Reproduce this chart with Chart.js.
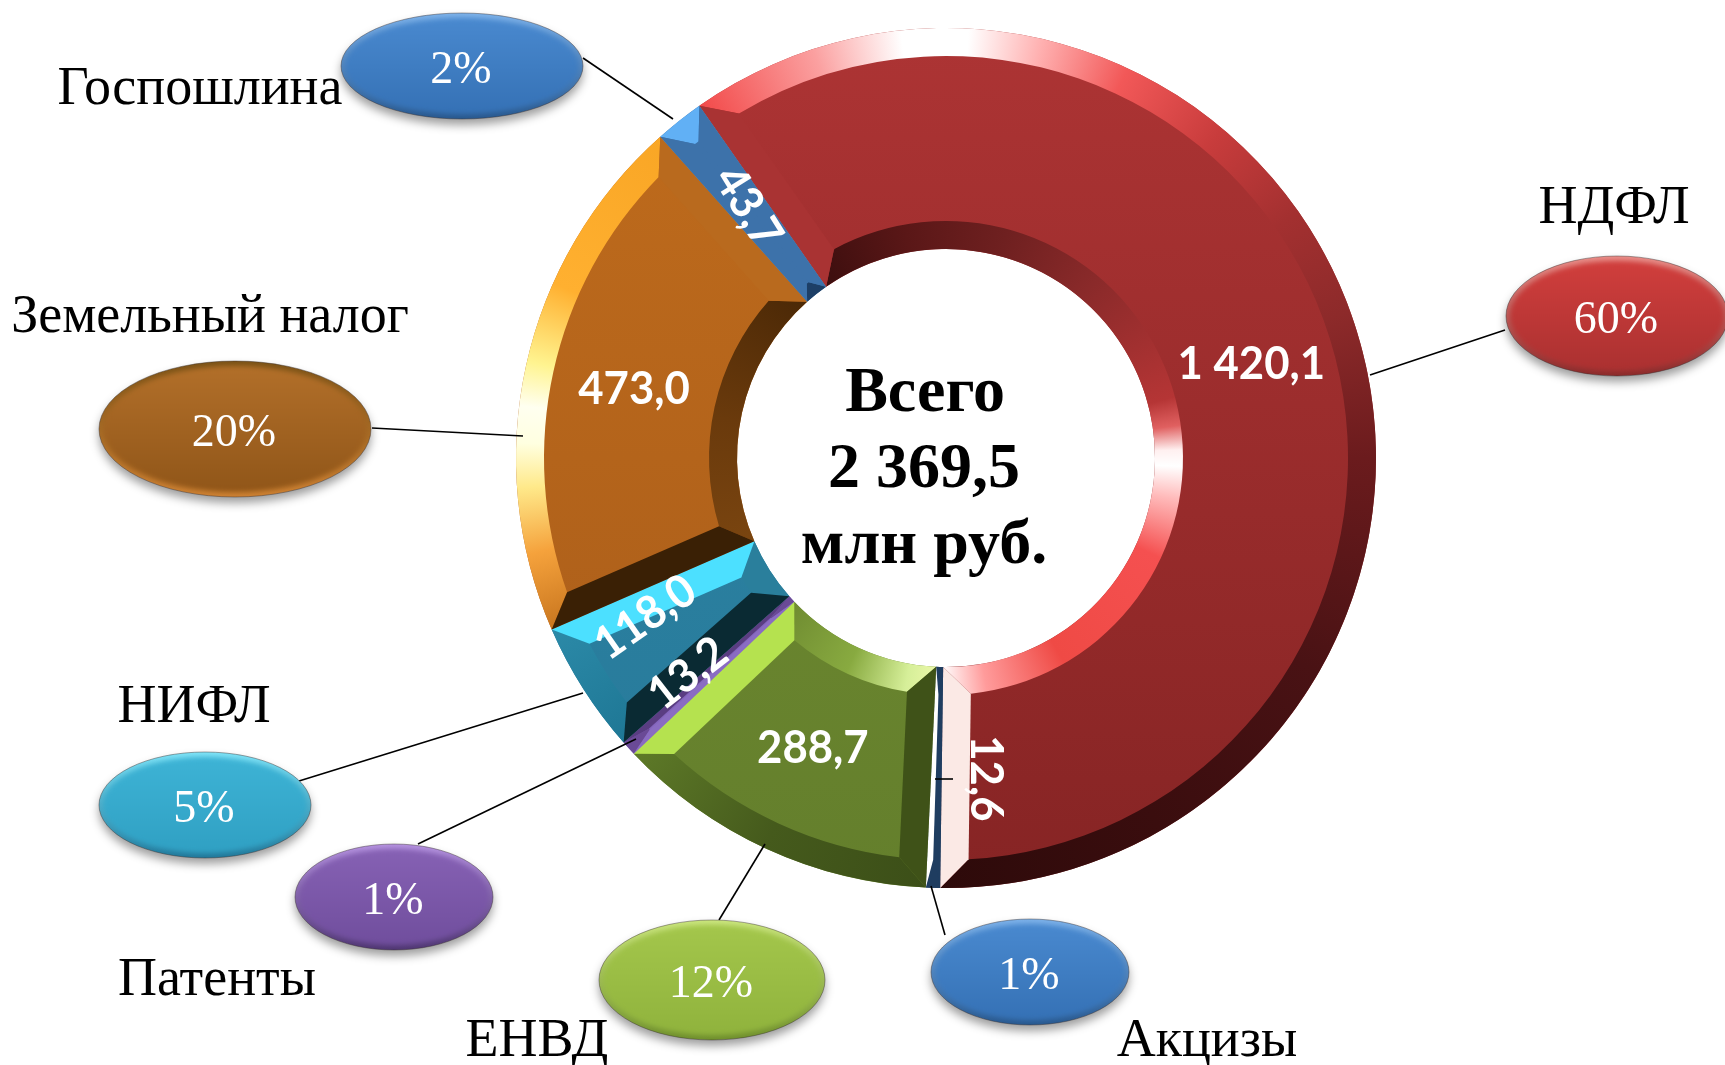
<!DOCTYPE html>
<html lang="ru">
<head>
<meta charset="utf-8">
<title>Всего 2 369,5 млн руб.</title>
<script src="https://cdn.jsdelivr.net/npm/chart.js@4"></script>
<style>html,body{margin:0;padding:0;background:#fff}canvas{display:block}</style>
</head>
<body>
<canvas id="c" width="1725" height="1065"></canvas>
<script>
// ---- data ----
const categories = ['НДФЛ','Акцизы','ЕНВД','Патенты','НИФЛ','Земельный налог','Госпошлина'];
const values     = [1420.1, 12.6, 288.7, 13.2, 118.0, 473.0, 43.7];
const valueTexts = ['1 420,1','12,6','288,7','13,2','118,0','473,0','43,7'];
const percents   = ['60%','1%','12%','1%','5%','20%','2%'];
const centerText = ['Всего','2 369,5','млн руб.'];

// ---- styles ----
const flatTop    = ['#ad3434','#1f3d60','#738f33','#8465bd','#2f88a6','#c06c1c','#3d72aa'];
const flatBottom = ['#862424','#1f3d60','#647f2c','#8465bd','#27799a','#a85c1a','#3d72aa'];
const startSide  = ['#a93333','#1f3d60','#3f5218','#8a6cc2','#0a2a33','#3a2005','#3d72aa'];
const endSide    = ['#fbe9e5','#ffffff','#b5e24f','#5a3d82','#4ce0ff','#b96a1e','#3d72aa'];
const outerStops = [
  [[-35,'#f24a4a'],[-18,'#fba0a0'],[-6,'#ffffff'],[3,'#ffffff'],[13,'#ffb0b0'],[25,'#f25858'],[40,'#c83c3c'],[55,'#a33030'],[70,'#8d2a2a'],[90,'#6b1b1d'],[120,'#491214'],[150,'#3a0d0e'],[181,'#2d0a0a']],
  [[181,'#1f3d60'],[183,'#1f3d60']],
  [[183,'#3c4f18'],[205,'#455a1c'],[227,'#5e7a28']],
  [[227,'#6a4a96'],[229,'#6a4a96']],
  [[228,'#1e7795'],[247,'#2c8aa8']],
  [[246,'#c9761f'],[257,'#f5a23c'],[266,'#ffe98a'],[272,'#ffffe0'],[277,'#fffff0'],[283,'#fff490'],[294,'#ffb030'],[319,'#f9a625']],
  [[318,'#61b0f5'],[326,'#61b0f5']]
];
const innerStops = [
  [[-35,'#3c0e0e'],[-10,'#5a1717'],[15,'#6f2020'],[40,'#8a2a2a'],[60,'#a23030'],[75,'#b53535'],[82,'#e06060'],[88,'#fff0f0'],[92,'#ffffff'],[100,'#ffbbbb'],[115,'#f55050'],[150,'#ef4a45'],[170,'#ff9b9b'],[181,'#ffffff']],
  [[181,'#1f3d60'],[183,'#1f3d60']],
  [[183,'#eaf7a8'],[190,'#d6ef99'],[205,'#88aa40'],[227,'#6e8a30']],
  [[227,'#6a4a96'],[229,'#6a4a96']],
  [[228,'#2a7f9c'],[247,'#2a7f9c']],
  [[246,'#7a4510'],[280,'#6a3a0c'],[319,'#4a2806']],
  [[318,'#1d3f66'],[326,'#1d3f66']]
];
const labelOffset = [[0,0],[49,1],[0,0],[-22,0],[-31,-12],[0,0],[0,0]];
const labelRotate = [0,90,0,-38,-35,0,58];
const bevel = 28;
const innerBevel = [28,28,28,28,28,28,14];

// callouts: bubble centre/radii, colours [rim top, body top, body bottom, rim bottom], caption position, leader line
const bubbles = [
  {p:[1617,316],r:[111,60],c:['#ea8f8a','#d23f3d','#a93030','#8a2a2a'],name:[1614,209],line:[[1505,330],[1370,375]]},
  {p:[1030,972],r:[99,53],c:['#7db2ea','#4a8ad0','#3470b4','#28588e'],name:[1207,1042],line:[[945,935],[931,886]]},
  {p:[712,980],r:[113,60],c:['#cbe67e','#a4c74c','#8fb23c','#6f8f2c'],name:[537,1042],line:[[719,920],[765,844]]},
  {p:[394,897],r:[99,53],c:['#b592e0','#8762b5','#6f4d9c','#4f3672'],name:[217,981],line:[[418,844],[636,739]]},
  {p:[205,805],r:[106,53],c:['#7fe4f8','#3eb4d6','#2f9fc2','#20789a'],name:[194,708],line:[[299,781],[583,693]]},
  {p:[235,429],r:[136,68],c:['#7a5216','#b3702a','#8f5518','#cf8233'],name:[210,318],line:[[372,428],[523,436]]},
  {p:[462,66],r:[121,53],c:['#7db2ea','#4a8ad0','#3470b4','#28588e'],name:[200,90],line:[[583,58],[673,119]]}
];
const extraTick = [[935,779],[953,779]];

const SERIF = '"Liberation Serif","DejaVu Serif",serif';
const SANS  = 'Lato,"Open Sans",sans-serif';

function polar(x,y,r,t){ return [x+r*Math.cos(t), y+r*Math.sin(t)]; }

const bevelPlugin = {
  id:'bevel',
  afterDatasetsDraw(chart){
    const ctx = chart.ctx;
    const arcs = chart.getDatasetMeta(0).data;
    arcs.forEach((arc,i)=>{
      const {x,y,startAngle:a0,endAngle:a1,innerRadius:ri,outerRadius:ro} = arc.getProps(['x','y','startAngle','endAngle','innerRadius','outerRadius'],true);
      const span=a1-a0;
      const ins = r=>Math.min(Math.asin(bevel/r),0.45*span);
      const ro2=ro-bevel, ri2=ri+innerBevel[i];
      const io=ins(ro2), ii=ins(ri2);
      const conic=(stops)=>{
        const g=ctx.createConicGradient(a0,x,y);
        const startClock=a0*180/Math.PI+90;
        stops.forEach(([d,c])=>{
          g.addColorStop(Math.max(0,Math.min(1,(d-startClock)/360)),c);
        });
        return g;
      };
      ctx.save();
      ctx.beginPath();
      ctx.arc(x,y,ro,a0,a1);
      ctx.arc(x,y,ro2,a1-io,a0+io,true);
      ctx.closePath();
      ctx.fillStyle=conic(outerStops[i]);
      ctx.fill();
      ctx.beginPath();
      ctx.arc(x,y,ri,a0,a1);
      ctx.arc(x,y,ri2,a1-ii,a0+ii,true);
      ctx.closePath();
      ctx.fillStyle=conic(innerStops[i]);
      ctx.fill();
      const side=(a,b1,b2,col)=>{
        ctx.beginPath();
        ctx.moveTo(...polar(x,y,ro,a));
        ctx.lineTo(...polar(x,y,ro2,b1));
        ctx.lineTo(...polar(x,y,ri2,b2));
        ctx.lineTo(...polar(x,y,ri,a));
        ctx.closePath();
        ctx.fillStyle=col;
        ctx.fill();
      };
      side(a0,a0+io,a0+ii,startSide[i]);
      side(a1,a1-io,a1-ii,endSide[i]);
      ctx.restore();
    });

    // leader lines
    ctx.save();
    ctx.strokeStyle='#000';
    ctx.lineWidth=1.6;
    bubbles.forEach(b=>{
      ctx.beginPath();ctx.moveTo(...b.line[0]);ctx.lineTo(...b.line[1]);ctx.stroke();
    });
    ctx.beginPath();ctx.moveTo(...extraTick[0]);ctx.lineTo(...extraTick[1]);ctx.stroke();
    ctx.restore();

    // value labels
    ctx.save();
    ctx.textAlign='center';ctx.textBaseline='middle';
    ctx.fillStyle='#fff';
    ctx.font='700 46px '+SANS;
    arcs.forEach((arc,i)=>{
      const p=arc.getCenterPoint(true);
      ctx.save();
      ctx.translate(p.x+labelOffset[i][0],p.y+labelOffset[i][1]);
      ctx.rotate(labelRotate[i]*Math.PI/180);
      ctx.scale(0.95,1);
      ctx.fillText(valueTexts[i],0,0);
      ctx.restore();
    });
    ctx.restore();

    // bubbles
    bubbles.forEach((b,i)=>{
      const [cx,cy]=b.p,[rx,ry]=b.r,[rimT,bodyT,bodyB,rimB]=b.c;
      ctx.save();
      ctx.shadowColor='rgba(0,0,0,0.38)';ctx.shadowBlur=10;ctx.shadowOffsetY=6;
      ctx.beginPath();ctx.ellipse(cx,cy,rx,ry,0,0,Math.PI*2);
      let g=ctx.createLinearGradient(0,cy-ry,0,cy+ry);
      g.addColorStop(0,rimT);g.addColorStop(1,rimB);
      ctx.fillStyle=g;ctx.fill();
      ctx.restore();
      ctx.save();
      ctx.beginPath();ctx.ellipse(cx,cy,rx,ry,0,0,Math.PI*2);ctx.clip();
      ctx.filter='blur(2.5px)';
      ctx.beginPath();ctx.ellipse(cx,cy,rx-4,ry-5,0,0,Math.PI*2);
      g=ctx.createLinearGradient(0,cy-ry,0,cy+ry);
      g.addColorStop(0,bodyT);g.addColorStop(1,bodyB);
      ctx.fillStyle=g;ctx.fill();
      ctx.restore();
      ctx.save();
      ctx.beginPath();ctx.ellipse(cx,cy,rx,ry,0,0,Math.PI*2);
      ctx.strokeStyle='rgba(60,50,50,0.45)';ctx.lineWidth=1;ctx.stroke();
      ctx.textAlign='center';ctx.textBaseline='middle';
      ctx.fillStyle='#fff';
      ctx.font='46px '+SERIF;
      ctx.fillText(percents[i],cx-1,cy+5);
      ctx.fillStyle='#000';
      ctx.font='54px '+SERIF;
      ctx.fillText(categories[i],b.name[0],b.name[1]);
      ctx.restore();
    });

    // centre text
    ctx.save();
    ctx.textAlign='center';ctx.textBaseline='middle';
    ctx.fillStyle='#000';
    ctx.font='700 64px '+SERIF;
    ctx.fillText(centerText[0],925,394);
    ctx.fillText(centerText[1],924,470);
    ctx.fillText(centerText[2],924,546);
    ctx.restore();
  }
};

function vgrad(ctx,top,bottom){
  const g=ctx.createLinearGradient(0,28,0,888);
  g.addColorStop(0,top);g.addColorStop(1,bottom);
  return g;
}

new Chart(document.getElementById('c'),{
  type:'doughnut',
  data:{labels:categories,datasets:[{
    data:values,
    borderWidth:0,
    hoverOffset:0,
    backgroundColor:c=>vgrad(c.chart.ctx,flatTop[c.dataIndex],flatBottom[c.dataIndex])
  }]},
  options:{
    responsive:false,
    animation:false,
    rotation:-35,
    cutout:'48.6%',
    layout:{padding:{left:516,right:349,top:28,bottom:177}},
    plugins:{legend:{display:false},tooltip:{enabled:false}},
    events:[]
  },
  plugins:[bevelPlugin]
});
</script>
</body>
</html>
